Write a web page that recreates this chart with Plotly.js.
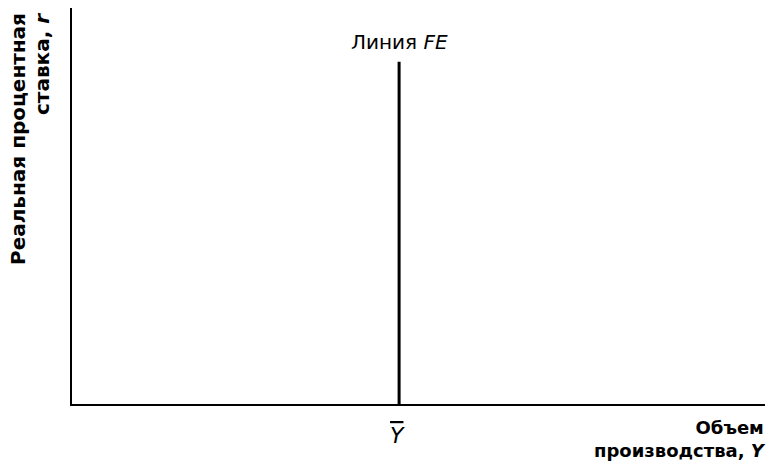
<!DOCTYPE html>
<html><head><meta charset="utf-8">
<script src="https://cdn.plot.ly/plotly-3.0.1.min.js"></script>
<style>body{margin:0;background:#fff}#c{width:770px;height:465px}</style>
</head><body><div id="c"></div>
<script>
// Data
const feX = [4.72, 4.72];     // potential output Ȳ
const feY = [0, 8.64];        // FE line from bottom to top
const feLabel = "Линия <i>FE</i>";
const yBarLabel = "<span style=\"text-decoration:overline\"><i>Y</i></span>";
const xTitleLines = ["Объем", "производства, <i>Y</i>"];
const yTitleLines = ["Реальная процентная", "ставка, <i>r</i>"];

const trace = {x: feX, y: feY, mode: 'lines', line: {color: '#000', width: 3}, hoverinfo: 'skip', showlegend: false};

const layout = {
  width: 770, height: 465,
  margin: {l: 72, r: 5, t: 8, b: 61},
  paper_bgcolor: '#fff', plot_bgcolor: '#fff',
  xaxis: {range: [0, 10], showline: true, linecolor: '#000', linewidth: 2, showgrid: false, zeroline: false, showticklabels: false, ticks: ''},
  yaxis: {range: [0, 10], showline: true, linecolor: '#000', linewidth: 2, showgrid: false, zeroline: false, showticklabels: false, ticks: ''},
  annotations: [
    {x: feX[1], y: feY[1], xref: 'x', yref: 'y', text: feLabel, showarrow: false, yanchor: 'middle', yshift: 20,
     font: {family: 'DejaVu Sans', size: 20, color: '#000'}},
    {x: feX[0], y: 0, xref: 'x', yref: 'y', text: yBarLabel, showarrow: false, yanchor: 'middle', yshift: -31, xshift: -2,
     font: {family: 'DejaVu Sans', size: 22, color: '#000'}},
    {x: 1, y: 0, xref: 'paper', yref: 'paper', text: '<b>' + xTitleLines.join('<br>') + '</b>', showarrow: false, xanchor: 'right', yanchor: 'top', align: 'right', yshift: -12, xshift: 2, borderpad: 0,
     font: {family: 'DejaVu Sans', size: 18, color: '#000'}},
    {x: 0, y: 1, xref: 'paper', yref: 'paper', text: '<b>' + yTitleLines[0] + '</b>', showarrow: false, xanchor: 'center', yanchor: 'top', textangle: -90, xshift: -54, yshift: -3,
     font: {family: 'DejaVu Sans', size: 20, color: '#000'}},
    {x: 0, y: 1, xref: 'paper', yref: 'paper', text: '<b>' + yTitleLines[1] + '</b>', showarrow: false, xanchor: 'center', yanchor: 'top', textangle: -90, xshift: -30, yshift: -3,
     font: {family: 'DejaVu Sans', size: 20, color: '#000'}}
  ]
};
Plotly.newPlot('c', [trace], layout, {displayModeBar: false, staticPlot: true});
</script></body></html>
